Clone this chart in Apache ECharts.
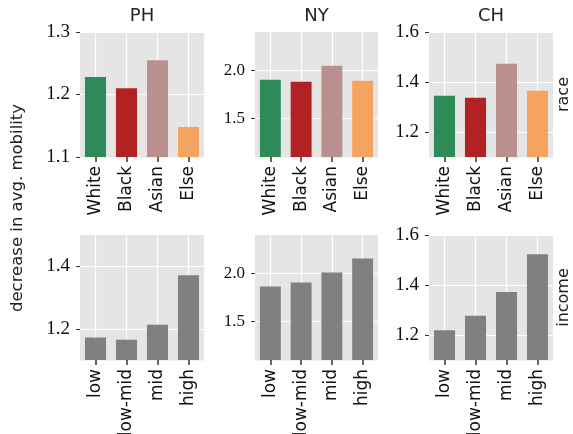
<!DOCTYPE html>
<html>
<head>
<meta charset="utf-8">
<script src="https://cdn.jsdelivr.net/npm/echarts@6/dist/echarts.min.js"></script>
<style>
  html, body { margin: 0; padding: 0; background: #fff; }
  #chart { width: 573px; height: 434px; }
</style>
</head>
<body>
<div id="chart"></div>
<script>
// categories
const cities = ['PH', 'NY', 'CH']
const raceCats = ['White', 'Black', 'Asian', 'Else']
const incomeCats = ['low', 'low-mid', 'mid', 'high']
const raceColors = ['#2e8b57', '#b22222', '#bc8f8f', '#f4a460']
const incomeColor = '#808080'

// decrease in avg. mobility, by race
const racePH = [1.228, 1.210, 1.255, 1.148]
const raceNY = [1.904, 1.883, 2.049, 1.893]
const raceCH = [1.345, 1.337, 1.473, 1.365]
// by income
const incomePH = [1.172, 1.165, 1.213, 1.371]
const incomeNY = [1.865, 1.906, 2.010, 2.156]
const incomeCH = [1.219, 1.277, 1.372, 1.523]

// y ranges and tick labels
const raceRanges = [[1.1, 1.3], [1.1, 2.4], [1.1, 1.6]]
const incomeRanges = [[1.1, 1.5], [1.1, 2.4], [1.1, 1.6]]
const raceTicks = [[1.1, 1.2, 1.3], [1.5, 2.0], [1.2, 1.4, 1.6]]
const incomeTicks = [[1.2, 1.4], [1.5, 2.0], [1.2, 1.4, 1.6]]

const chart = echarts.init(document.getElementById('chart'))

const lefts = [80, 255, 429]
const widths = [124, 123, 124]
const tops = [32, 235]
const plotH = 125
const serif = "'Liberation Serif', serif"

const grids = []
const xAxes = []
const yAxes = []
const series = []

function addPanel(row, col, cats, values, range, ticks, colors) {
  const idx = grids.length
  grids.push({
    left: lefts[col], top: tops[row], width: widths[col], height: plotH,
    outerBoundsMode: 'none', containLabel: false,
    show: true, backgroundColor: '#e5e5e5', borderWidth: 0
  })
  xAxes.push({
    gridIndex: idx, type: 'category', data: cats, position: 'bottom',
    axisLine: { show: true, onZero: false, lineStyle: { color: '#e5e5e5', width: 0.5 } },
    axisTick: { show: true, inside: false, alignWithLabel: true, length: 5, lineStyle: { color: '#333', width: 1.5 } },
    axisLabel: {
      show: true, rotate: 90, margin: 9, interval: 0,
      fontFamily: 'DejaVu Sans', fontSize: 17, color: '#111'
    },
    splitLine: { show: false }
  })
  yAxes.push({
    gridIndex: idx, type: 'value', min: range[0], max: range[1], position: 'left',
    axisLine: { show: false, onZero: false },
    axisTick: { show: true, customValues: ticks, length: 4, lineStyle: { color: '#333' } },
    axisLabel: {
      customValues: ticks, margin: 10,
      fontFamily: serif, fontSize: col === 1 ? 17 : 19, color: '#111',
      formatter: v => v.toFixed(1)
    },
    splitLine: { show: true, lineStyle: { color: '#fff', width: 1.2 } }
  })
  series.push({
    type: 'bar', xAxisIndex: idx, yAxisIndex: idx, barWidth: '68%',
    data: values.map((v, i) => ({
      value: v,
      itemStyle: { color: Array.isArray(colors) ? colors[i] : colors }
    })),
    // vertical white grid lines through each category centre
    markLine: {
      silent: true, symbol: 'none', label: { show: false },
      lineStyle: { color: '#fff', width: 1.2, type: 'solid' },
      z: 1,
      data: cats.map(c => ({ xAxis: c }))
    },
    z: 2
  })
}

const raceData = [racePH, raceNY, raceCH]
const incomeData = [incomePH, incomeNY, incomeCH]
for (let c = 0; c < 3; c++) {
  addPanel(0, c, raceCats, raceData[c], raceRanges[c], raceTicks[c], raceColors)
  addPanel(1, c, incomeCats, incomeData[c], incomeRanges[c], incomeTicks[c], incomeColor)
}

const textStyle = { fontFamily: 'DejaVu Sans', fill: '#222', textAlign: 'center', textVerticalAlign: 'middle' }
const graphic = cities.map((name, c) => ({
  type: 'text', x: lefts[c] + widths[c] / 2, y: 16,
  style: Object.assign({ text: name, fontSize: 18 }, textStyle)
}))
graphic.push({
  type: 'text', x: 18, y: 208, rotation: Math.PI / 2,
  style: Object.assign({ text: 'decrease in avg. mobility', fontSize: 16.5 }, textStyle)
})
graphic.push({
  type: 'text', x: 564, y: 94.5, rotation: Math.PI / 2,
  style: Object.assign({ text: 'race', fontSize: 16 }, textStyle)
})
graphic.push({
  type: 'text', x: 564, y: 297.5, rotation: Math.PI / 2,
  style: Object.assign({ text: 'income', fontSize: 16 }, textStyle)
})

chart.setOption({
  animation: false,
  grid: grids,
  xAxis: xAxes,
  yAxis: yAxes,
  series: series,
  graphic: graphic
})
</script>
</body>
</html>
